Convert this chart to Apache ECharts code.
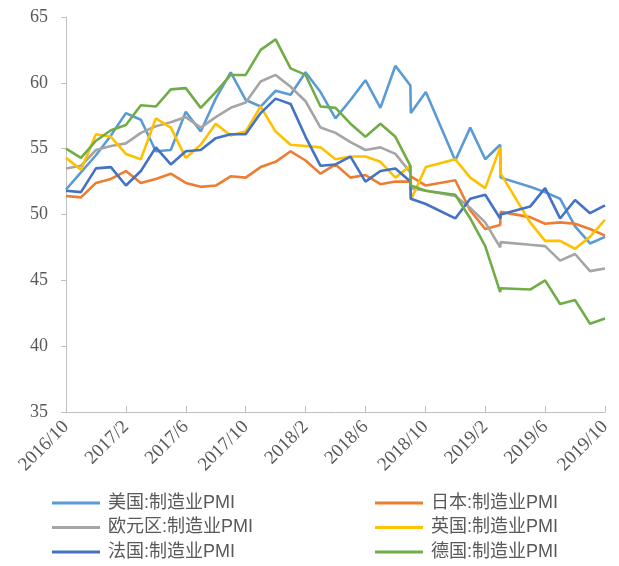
<!DOCTYPE html>
<html>
<head>
<meta charset="utf-8">
<script src="https://cdn.jsdelivr.net/npm/echarts@6/dist/echarts.min.js"></script>
<style>
  html, body { margin: 0; padding: 0; background: #fff; }
  #chart { width: 619px; height: 566px; }
</style>
</head>
<body>
<div id="chart"></div>
<script>
// Observation dates (month-end, a few releases stamped on the 1st)
var dates = [
  '2016-10-31','2016-11-30','2016-12-31','2017-01-31','2017-02-28','2017-03-31',
  '2017-04-30','2017-05-31','2017-06-30','2017-07-31','2017-08-31','2017-09-30',
  '2017-10-31','2017-11-30','2017-12-31','2018-01-31','2018-02-28','2018-03-31',
  '2018-04-30','2018-05-31','2018-06-30','2018-07-31','2018-08-31','2018-09-30',
  '2018-10-01','2018-11-01','2018-12-31','2019-01-31','2019-02-28','2019-03-31',
  '2019-04-01','2019-05-31','2019-06-30','2019-07-31','2019-08-31','2019-09-30',
  '2019-10-31'
];

var usPMI = [51.9,53.2,54.5,56.0,57.7,57.2,54.8,54.9,57.8,56.3,58.8,60.8,
  58.7,58.2,59.4,59.1,60.8,59.3,57.3,58.7,60.2,58.1,61.3,59.8,
  57.7,59.3,54.1,56.6,54.2,55.3,52.8,52.1,51.7,51.2,49.1,47.8,48.3];
var jpPMI = [51.4,51.3,52.4,52.7,53.3,52.4,52.7,53.1,52.4,52.1,52.2,52.9,
  52.8,53.6,54.0,54.8,54.1,53.1,53.8,52.8,53.0,52.3,52.5,52.5,
  52.9,52.2,52.6,50.3,48.9,49.2,50.2,49.8,49.3,49.4,49.3,48.9,48.4];
var ezPMI = [53.5,53.7,54.9,55.2,55.4,56.2,56.7,57.0,57.4,56.6,57.4,58.1,
  58.5,60.1,60.6,59.7,58.6,56.6,56.2,55.5,54.9,55.1,54.6,53.2,
  52.0,51.8,51.4,50.5,49.4,47.5,47.9,47.7,47.6,46.5,47.0,45.7,45.9];
var ukPMI = [54.3,53.4,56.1,55.9,54.6,54.2,57.3,56.6,54.3,55.3,56.9,56.0,
  56.3,58.2,56.3,55.3,55.2,55.1,54.2,54.4,54.4,54.0,52.8,53.7,
  51.1,53.6,54.2,52.8,52.0,55.1,53.1,49.4,48.0,48.0,47.4,48.3,49.6];
var frPMI = [51.8,51.7,53.5,53.6,52.2,53.3,55.1,53.8,54.8,54.9,55.8,56.1,
  56.1,57.7,58.8,58.4,55.9,53.7,53.8,54.4,52.5,53.3,53.5,52.5,
  51.2,50.8,49.7,51.2,51.5,49.7,50.0,50.6,52.0,49.7,51.1,50.1,50.7];
var dePMI = [55.0,54.3,55.6,56.4,56.8,58.3,58.2,59.5,59.6,58.1,59.3,60.6,
  60.6,62.5,63.3,61.1,60.6,58.2,58.1,56.9,55.9,56.9,55.9,53.7,
  52.2,51.8,51.5,49.7,47.6,44.1,44.4,44.3,45.0,43.2,43.5,41.7,42.1];

var seriesNames = ['美国:制造业PMI','日本:制造业PMI','欧元区:制造业PMI',
                   '英国:制造业PMI','法国:制造业PMI','德国:制造业PMI'];
var seriesValues = [usPMI, jpPMI, ezPMI, ukPMI, frPMI, dePMI];
var seriesColors = ['#5B9BD5','#ED7D31','#A5A5A5','#FFC000','#4472C4','#70AD47'];

// Axis runs in months counted from 2016/10
var START_YEAR = 2016, START_MONTH = 10;

function monthPos(dateStr) {
  var p = dateStr.split('-');
  var y = +p[0], m = +p[1], d = +p[2];
  var daysInMonth = new Date(y, m, 0).getDate();
  return (y - START_YEAR) * 12 + (m - START_MONTH) - 1 + d / daysInMonth;
}

function monthLabel(v) {
  var total = START_MONTH - 1 + Math.round(v);
  return (START_YEAR + Math.floor(total / 12)) + '/' + (total % 12 + 1);
}

var axisColor = '#BFBFBF';
var textColor = '#595959';
var serif = '"Liberation Serif", "Times New Roman", serif';
var sans = '"Liberation Sans", Arial, "Noto Sans CJK SC", sans-serif';

var series = seriesNames.map(function (name, k) {
  return {
    name: name,
    type: 'line',
    symbol: 'none',
    smooth: false,
    color: seriesColors[k],
    lineStyle: { width: 2.6, color: seriesColors[k] },
    data: dates.map(function (d, i) { return [monthPos(d), seriesValues[k][i]]; })
  };
});

function legendBlock(names, left) {
  return {
    data: names,
    orient: 'vertical',
    left: left,
    top: 494,
    width: 240,
    height: 72,
    icon: 'rect',
    itemWidth: 48,
    itemHeight: 3,
    itemGap: 6.5,
    padding: 0,
    textStyle: {
      fontSize: 18, lineHeight: 18, color: textColor, fontFamily: sans,
      padding: [0, 0, 0, 3]
    }
  };
}

var chart = echarts.init(document.getElementById('chart'));
chart.setOption({
  animation: false,
  backgroundColor: '#ffffff',
  grid: { left: 66, right: 14, top: 17, bottom: 154, containLabel: false },
  xAxis: {
    type: 'value',
    min: 0,
    max: 36,
    interval: 4,
    axisLine: { show: true, lineStyle: { color: axisColor, width: 1 } },
    axisTick: { show: true, inside: true, length: 6, lineStyle: { color: axisColor } },
    axisLabel: {
      rotate: 45,
      margin: 12,
      fontSize: 19,
      fontFamily: serif,
      color: textColor,
      formatter: monthLabel
    },
    splitLine: { show: false }
  },
  yAxis: {
    type: 'value',
    min: 35,
    max: 65,
    interval: 5,
    axisLine: { show: true, lineStyle: { color: axisColor, width: 1 } },
    axisTick: { show: true, inside: false, length: 5, lineStyle: { color: axisColor } },
    axisLabel: { margin: 18, fontSize: 18, fontFamily: serif, color: textColor },
    splitLine: { show: false }
  },
  legend: [
    legendBlock([seriesNames[0], seriesNames[2], seriesNames[4]], 52),
    legendBlock([seriesNames[1], seriesNames[3], seriesNames[5]], 375)
  ],
  series: series
});
</script>
</body>
</html>
